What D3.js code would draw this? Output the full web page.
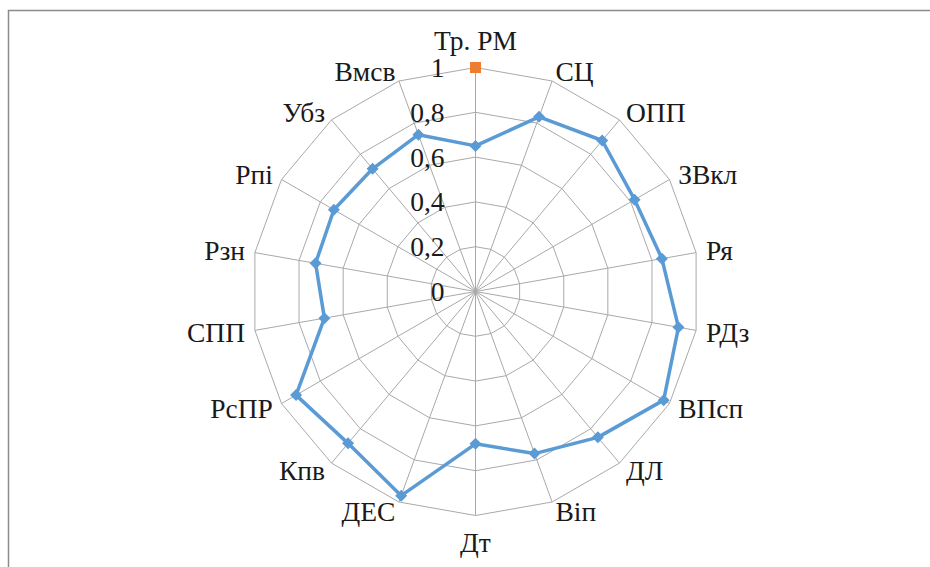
<!DOCTYPE html>
<html><head><meta charset="utf-8">
<script src="https://cdn.jsdelivr.net/npm/d3@7"></script>
<style>html,body{margin:0;padding:0;background:#fff;}svg{display:block;}</style>
</head><body>
<svg id="chart" width="930" height="567"></svg>
<script>
const categories = ["Тр. РМ","СЦ","ОПП","ЗВкл","Ря","РДз","ВПсп","ДЛ","Віп","Дт","ДЕС","Кпв","РсПР","СПП","Рзн","Рпі","Убз","Вмсв"];
const seriesMain = [0.65,0.83,0.88,0.82,0.845,0.92,0.97,0.85,0.77,0.68,0.97,0.885,0.925,0.685,0.725,0.73,0.715,0.745];
const seriesMax = [1];
const tickValues = [0,0.2,0.4,0.6,0.8,1];
const tickLabels = ["0","0,2","0,4","0,6","0,8","1"];

const FONT = "Liberation Serif";
const FS = 27.5;
const svg = d3.select("#chart");
const cx = 475.5, cy = 291.5, R = 224;
const n = categories.length;
const r = d3.scaleLinear().domain([0,1]).range([0,R]);
const ang = d3.scaleLinear().domain([0,n]).range([0,2*Math.PI]);
const pt = (i,v) => [cx + r(v)*Math.sin(ang(i)), cy - r(v)*Math.cos(ang(i))];

// frame
svg.append("path").attr("d","M8.5,567 L8.5,10.5 L930,10.5")
  .attr("fill","none").attr("stroke","#8c8c8c").attr("stroke-width",1.5);

const grid = svg.append("g");
tickValues.filter(t=>t>0).forEach(t=>{
  grid.append("polygon")
    .attr("points", d3.range(n).map(i=>pt(i,t).join(",")).join(" "))
    .attr("fill","none").attr("stroke","#a9a9a9").attr("stroke-width",1);
});
d3.range(n).forEach(i=>{
  const p = pt(i,1);
  grid.append("line").attr("x1",cx).attr("y1",cy).attr("x2",p[0]).attr("y2",p[1])
    .attr("stroke","#a9a9a9").attr("stroke-width",1);
});

// tick labels
svg.append("g").selectAll("text").data(tickValues).join("text")
  .attr("x", cx-31).attr("y", d=>cy - r(d))
  .attr("text-anchor","end").attr("dominant-baseline","central")
  .attr("font-family",FONT).attr("font-size",FS)
  .attr("fill","#1a1a1a")
  .text((d,i)=>tickLabels[i]);

// category labels
svg.append("g").selectAll("text").data(categories).join("text")
  .each(function(d,i){
    const a = ang(i), s = Math.sin(a), c = Math.cos(a);
    const v = pt(i,1);
    const el = d3.select(this);
    if (Math.abs(s) < 0.01) {
      el.attr("x", v[0]).attr("y", v[1] + (c>0 ? -27 : 27)).attr("text-anchor","middle");
    } else {
      el.attr("x", v[0] + 10*s).attr("y", v[1] - 10*c).attr("text-anchor", s>0 ? "start" : "end");
    }
  })
  .attr("dominant-baseline","central")
  .attr("font-family",FONT).attr("font-size",FS)
  .attr("fill","#1a1a1a")
  .text(d=>d);

// main series
const line = d3.lineRadial().angle((d,i)=>ang(i)).radius(d=>r(d)).curve(d3.curveLinearClosed);
svg.append("path").datum(seriesMain)
  .attr("transform",`translate(${cx},${cy})`)
  .attr("d", line).attr("fill","none").attr("stroke","#5b9bd5").attr("stroke-width",3.5)
  .attr("stroke-linejoin","round");
svg.append("g").selectAll("path").data(seriesMain).join("path")
  .attr("transform",(d,i)=>{const p=pt(i,d);return `translate(${p[0]},${p[1]}) rotate(45)`;})
  .attr("d", d3.symbol().type(d3.symbolSquare).size(72)).attr("fill","#5b9bd5");

// second series (single point)
svg.append("g").selectAll("rect").data(seriesMax).join("rect")
  .attr("x",(d,i)=>pt(i,d)[0]-5.5).attr("y",(d,i)=>pt(i,d)[1]-5.5)
  .attr("width",11).attr("height",11).attr("fill","#ed7d31");
</script>
</body></html>
